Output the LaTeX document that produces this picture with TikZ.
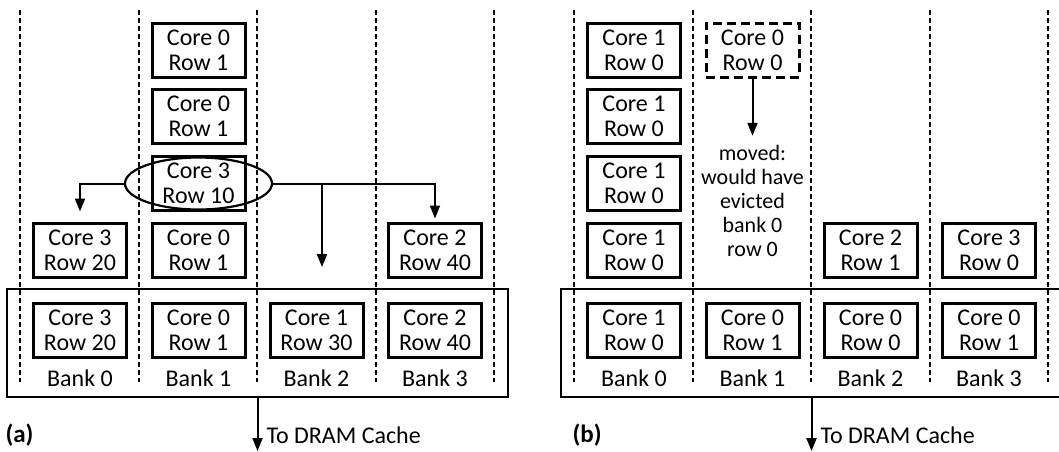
\documentclass[tikz,border=0pt]{standalone}
\usepackage{fontspec}
\setmainfont{Carlito}
\usetikzlibrary{arrows.meta,shapes.geometric}

\begin{document}
\begin{tikzpicture}[x=1pt,y=-1pt,
	font=\fontsize{24}{25}\selectfont,
	blk/.style={rectangle, draw, line width=3pt, minimum width=93pt, minimum height=54pt, inner sep=0pt, align=center},
	ghost/.style={blk, dash pattern=on 9pt off 5pt},
	lane/.style={line width=2pt, dash pattern=on 5pt off 3pt},
	arr/.style={-{Triangle[length=13pt,width=10pt]}, line width=2pt},
	tag/.style={anchor=west, font=\fontsize{25}{26}\selectfont\bfseries}]

\useasboundingbox (0,0) rectangle (1059,451);

% (a) row buffers before the move
\foreach \x in {20,139,257,376,494}{
	\draw[lane] (\x,10) -- (\x,382);
}
\node[draw, line width=2pt, minimum width=501pt, minimum height=108pt] (cachea) at (257.5,343) {};

\foreach \n/\x/\y/\t in {
a03/80/250/{Core 3\\Row 20}%
,a04/80/330/{Core 3\\Row 20}%
,a10/198.5/50/{Core 0\\Row 1}%
,a11/198.5/116.5/{Core 0\\Row 1}%
,a12/198.5/183.5/{Core 3\\Row 10}%
,a13/198.5/250/{Core 0\\Row 1}%
,a14/198.5/330/{Core 0\\Row 1}%
,a24/316.5/330/{Core 1\\Row 30}%
,a33/435/250/{Core 2\\Row 40}%
,a34/435/330/{Core 2\\Row 40}%
}{
	\node[blk] (\n) at (\x,\y) {\t};
}
\foreach [count=\i from 0] \x in {80,198.5,316.5,435}{
	\node (banka\i) at (\x,378) {Bank \i};
}

\node[ellipse, draw, line width=2.2pt, minimum width=147pt, minimum height=52pt] (sel) at (198.5,183.5) {};
\coordinate (split) at (322,183.5);
\coordinate (drop) at (322,267);
\draw[arr, shorten >=10pt] (sel.west) -| (a03);
\draw[arr, shorten >=3pt] (sel.east) -| (a33);
\draw[arr] (split) -- (drop);

\coordinate (outa) at (257.5,451);
\draw[arr] (cachea.south) -- (outa);
\node[anchor=west] (drama) at (263,435) {To DRAM Cache};
\node[tag] (taga) at (2,435) {(a)};

% (b) same banks after the move
\begin{scope}[xshift=554pt]
\foreach \x in {20,139,257,376,494}{
	\draw[lane] (\x,10) -- (\x,382);
}
\node[draw, line width=2pt, minimum width=501pt, minimum height=108pt] (cacheb) at (257.5,343) {};

\foreach \n/\x/\y/\t in {
b00/80/50/{Core 1\\Row 0}%
,b01/80/116.5/{Core 1\\Row 0}%
,b02/80/183.5/{Core 1\\Row 0}%
,b03/80/250/{Core 1\\Row 0}%
,b04/80/330/{Core 1\\Row 0}%
,b14/198.5/330/{Core 0\\Row 1}%
,b23/316.5/250/{Core 2\\Row 1}%
,b24/316.5/330/{Core 0\\Row 0}%
,b33/435/250/{Core 3\\Row 0}%
,b34/435/330/{Core 0\\Row 1}%
}{
	\node[blk] (\n) at (\x,\y) {\t};
}
\node[ghost] (b10) at (198.5,50) {Core 0\\Row 0};
\foreach [count=\i from 0] \x in {80,198.5,316.5,435}{
	\node (bankb\i) at (\x,378) {Bank \i};
}

\node[align=center, font=\fontsize{22}{24}\selectfont] (note) at (198.5,201) {moved:\\would have\\evicted\\bank 0\\row 0};
\draw[arr, shorten >=6pt] (b10) -- (note);

\coordinate (outb) at (257.5,451);
\draw[arr] (cacheb.south) -- (outb);
\node[anchor=west] (dramb) at (263,435) {To DRAM Cache};
\node[tag] (tagb) at (15,435) {(b)};
\end{scope}

\end{tikzpicture}
\end{document}
